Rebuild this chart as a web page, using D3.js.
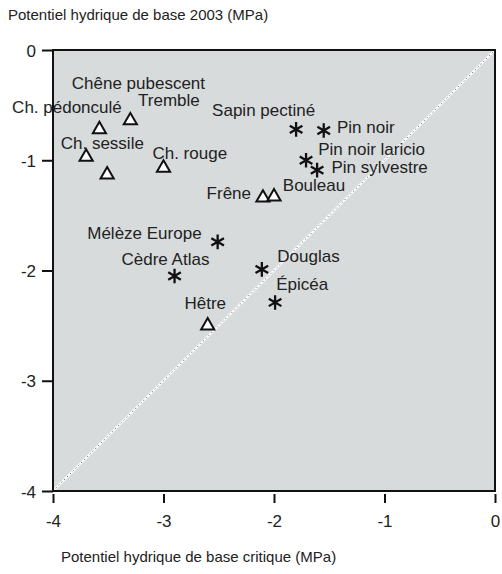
<!DOCTYPE html>
<html>
<head>
<meta charset="utf-8">
<script src="https://cdn.jsdelivr.net/npm/d3@7"></script>
<style>
  body { margin: 0; background: #fff; }
  text { font-family: "Liberation Sans", Arial, Helvetica, sans-serif; fill: #222; }
</style>
</head>
<body>
<svg id="chart" width="502" height="574"></svg>
<script>
// species, critical predawn potential (x) vs 2003 predawn potential (y)
const species = ["Ch. pédonculé", "Tremble", "Ch. sessile", "Chêne pubescent", "Ch. rouge",
                 "Frêne", "Bouleau", "Hêtre",
                 "Sapin pectiné", "Pin noir", "Pin noir laricio", "Pin sylvestre",
                 "Mélèze Europe", "Cèdre Atlas", "Douglas", "Épicéa"];
const critical = [-3.58, -3.30, -3.70, -3.51, -3.00, -2.10, -2.00, -2.60,
                  -1.80, -1.55, -1.71, -1.61, -2.51, -2.90, -2.11, -1.99];
const base2003 = [-0.72, -0.64, -0.97, -1.13, -1.07, -1.34, -1.33, -2.50,
                  -0.72, -0.73, -1.00, -1.09, -1.74, -2.05, -1.99, -2.29];
// feuillu = triangle, resineux = asterisk
const group = ["f", "f", "f", "f", "f", "f", "f", "f",
               "r", "r", "r", "r", "r", "r", "r", "r"];
// label anchor (in MPa units, text baseline-left)
const labelX = [-4.37, -3.23, -3.93, -3.83, -3.10, -2.61, -1.92, -2.81,
                -2.56, -1.43, -1.60, -1.48, -3.69, -3.38, -1.97, -1.98];
const labelY = [-0.57, -0.51, -0.90, -0.35, -0.99, -1.35, -1.28, -2.35,
                -0.60, -0.75, -0.95, -1.12, -1.71, -1.95, -1.92, -2.18];

const xTicks = [-4, -3, -2, -1, 0];
const yTicks = [0, -1, -2, -3, -4];

const svg = d3.select("#chart");
const mLeft = 53, mRight = 495, mTop = 50, mBottom = 491;

const x = d3.scaleLinear().domain([-4, 0]).range([mLeft, mRight]);
const y = d3.scaleLinear().domain([0, -4]).range([mTop, mBottom]);

// plot background
svg.append("rect")
    .attr("x", mLeft).attr("y", mTop)
    .attr("width", mRight - mLeft).attr("height", mBottom - mTop)
    .attr("fill", "#d7dbdc");

// 1:1 line
svg.append("line")
    .attr("x1", x(-4)).attr("y1", y(-4)).attr("x2", x(0)).attr("y2", y(0))
    .attr("stroke", "#fff").attr("stroke-width", 2.2);
svg.append("line")
    .attr("x1", x(-4)).attr("y1", y(-4)).attr("x2", x(0)).attr("y2", y(0))
    .attr("stroke", "#444").attr("stroke-width", 1)
    .attr("stroke-dasharray", "1,3");

// frame
svg.append("rect")
    .attr("x", mLeft).attr("y", mTop)
    .attr("width", mRight - mLeft).attr("height", mBottom - mTop)
    .attr("fill", "none").attr("stroke", "#111").attr("stroke-width", 2);

// axes
const fmt = d => String(d);
const xAxis = svg.append("g")
    .attr("transform", "translate(0," + (mBottom + 3) + ")")
    .call(d3.axisBottom(x).tickValues(xTicks).tickFormat(fmt).tickSize(9).tickPadding(12));
const yAxis = svg.append("g")
    .attr("transform", "translate(" + mLeft + ",0)")
    .call(d3.axisLeft(y).tickValues(yTicks).tickFormat(fmt).tickSize(11).tickPadding(6));

[xAxis, yAxis].forEach(g => {
    g.select(".domain").remove();
    g.selectAll(".tick line").attr("stroke", "#111").attr("stroke-width", 2);
    g.selectAll(".tick text").style("font-size", "17px").attr("fill", "#222")
        .style("font-family", "'Liberation Sans', Arial, sans-serif");
});
yAxis.selectAll(".tick text").attr("dy", "0.36em");

// axis titles
svg.append("text").attr("x", 8).attr("y", 20)
    .style("font-size", "15px")
    .text("Potentiel hydrique de base 2003 (MPa)");
svg.append("text").attr("x", 61).attr("y", 562)
    .style("font-size", "15px")
    .text("Potentiel hydrique de base critique (MPa)");

// points
const pts = species.map((s, i) => ({name: s, cx: critical[i], cy: base2003[i], g: group[i], lx: labelX[i], ly: labelY[i]}));

svg.append("g").selectAll("path")
    .data(pts)
    .join("path")
    .attr("transform", d => "translate(" + x(d.cx) + "," + y(d.cy) + ")")
    .attr("d", d => d.g === "f"
        ? d3.symbol(d3.symbolTriangle, 75)()
        : d3.symbol(d3.symbolAsterisk, 150)())
    .attr("fill", d => d.g === "f" ? "#fff" : "none")
    .attr("stroke", "#111")
    .attr("stroke-width", d => d.g === "f" ? 2 : 2.3);

// labels
svg.append("g").selectAll("text")
    .data(pts)
    .join("text")
    .attr("x", d => x(d.lx))
    .attr("y", d => y(d.ly))
    .style("font-size", "17px")
    .text(d => d.name);
</script>
</body>
</html>
